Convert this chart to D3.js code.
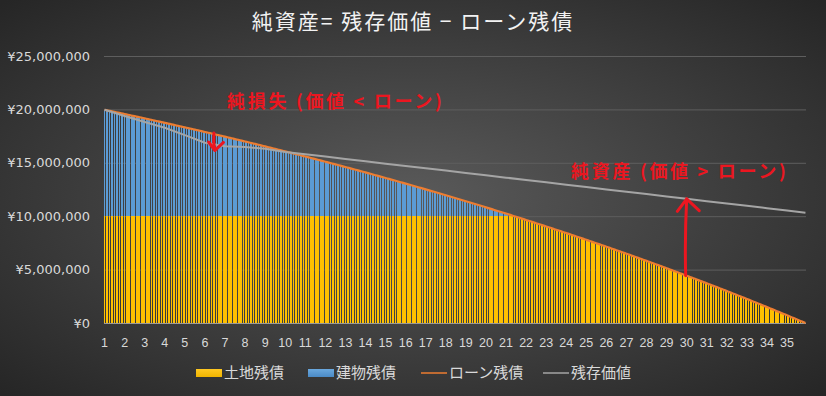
<!DOCTYPE html>
<html><head><meta charset="utf-8">
<script src="https://cdn.jsdelivr.net/npm/d3@7/dist/d3.min.js"></script>
<style>html,body{margin:0;padding:0;background:#333;}svg{display:block;}</style>
</head><body>
<svg id="chart" width="826" height="396"></svg>
<script>
// values in thousands of yen (千円), one entry per month (35 years x 12)
const unit = 1000;
const yearLabels = ["1","2","3","4","5","6","7","8","9","10","11","12","13","14","15","16","17","18","19","20","21","22","23","24","25","26","27","28","29","30","31","32","33","34","35"];
const monthsPerYear = 12;
const yTicks = [0, 5000, 10000, 15000, 20000, 25000];

const loanBalance = [
19967,19934,19900,19867,19834,19801,19767,19734,19701,19668,19634,19601,
19567,19533,19500,19466,19432,19398,19364,19330,19297,19263,19229,19195,
19160,19126,19091,19057,19022,18988,18953,18918,18884,18849,18815,18780,
18745,18709,18674,18639,18603,18568,18533,18497,18462,18427,18391,18356,
18320,18284,18248,18212,18176,18141,18105,18069,18033,17997,17961,17925,
17888,17852,17815,17778,17741,17705,17668,17631,17594,17558,17521,17484,
17447,17409,17372,17334,17297,17259,17222,17184,17147,17109,17072,17034,
16996,16958,16920,16881,16843,16805,16767,16729,16691,16652,16614,16576,
16537,16498,16459,16420,16381,16342,16303,16264,16225,16186,16147,16108,
16068,16029,15989,15949,15909,15870,15830,15790,15750,15711,15671,15631,
15590,15550,15509,15469,15428,15388,15347,15306,15266,15225,15185,15144,
15103,15061,15020,14978,14937,14896,14854,14813,14771,14730,14688,14647,
14605,14563,14521,14478,14436,14394,14352,14310,14268,14225,14183,14141,
14098,14055,14012,13969,13926,13883,13839,13796,13753,13710,13667,13624,
13580,13536,13492,13448,13404,13360,13316,13272,13228,13184,13140,13096,
13051,13006,12962,12917,12872,12827,12782,12737,12693,12648,12603,12558,
12512,12467,12421,12375,12329,12284,12238,12192,12146,12101,12055,12009,
11962,11916,11869,11822,11776,11729,11682,11636,11589,11542,11496,11449,
11401,11354,11306,11259,11211,11164,11116,11068,11021,10973,10926,10878,
10829,10781,10732,10684,10635,10587,10538,10489,10441,10392,10344,10295,
10246,10196,10147,10097,10048,9998,9949,9899,9850,9800,9751,9701,
9650,9600,9549,9499,9448,9398,9347,9296,9246,9195,9145,9094,
9043,8991,8940,8888,8837,8785,8734,8682,8631,8579,8528,8476,
8423,8371,8318,8265,8213,8160,8107,8055,8002,7949,7897,7844,
7790,7737,7683,7629,7576,7522,7468,7415,7361,7307,7254,7200,
7145,7091,7036,6981,6926,6872,6817,6762,6707,6653,6598,6543,
6487,6431,6376,6320,6264,6208,6152,6096,6041,5985,5929,5873,
5816,5759,5702,5645,5588,5531,5474,5417,5360,5303,5246,5189,
5131,5073,5015,4956,4898,4840,4782,4724,4666,4607,4549,4491,
4432,4373,4313,4254,4195,4136,4076,4017,3958,3899,3839,3780,
3720,3659,3599,3538,3478,3417,3357,3296,3236,3175,3115,3054,
2992,2931,2869,2807,2745,2684,2622,2560,2498,2437,2375,2313,
2250,2187,2124,2061,1998,1935,1872,1809,1746,1683,1620,1557,
1493,1429,1364,1300,1236,1172,1107,1043,979,915,850,786,
721,655,590,524,459,393,328,262,197,131,66,0];

const landDebt = [
10000,10000,10000,10000,10000,10000,10000,10000,10000,10000,10000,10000,
10000,10000,10000,10000,10000,10000,10000,10000,10000,10000,10000,10000,
10000,10000,10000,10000,10000,10000,10000,10000,10000,10000,10000,10000,
10000,10000,10000,10000,10000,10000,10000,10000,10000,10000,10000,10000,
10000,10000,10000,10000,10000,10000,10000,10000,10000,10000,10000,10000,
10000,10000,10000,10000,10000,10000,10000,10000,10000,10000,10000,10000,
10000,10000,10000,10000,10000,10000,10000,10000,10000,10000,10000,10000,
10000,10000,10000,10000,10000,10000,10000,10000,10000,10000,10000,10000,
10000,10000,10000,10000,10000,10000,10000,10000,10000,10000,10000,10000,
10000,10000,10000,10000,10000,10000,10000,10000,10000,10000,10000,10000,
10000,10000,10000,10000,10000,10000,10000,10000,10000,10000,10000,10000,
10000,10000,10000,10000,10000,10000,10000,10000,10000,10000,10000,10000,
10000,10000,10000,10000,10000,10000,10000,10000,10000,10000,10000,10000,
10000,10000,10000,10000,10000,10000,10000,10000,10000,10000,10000,10000,
10000,10000,10000,10000,10000,10000,10000,10000,10000,10000,10000,10000,
10000,10000,10000,10000,10000,10000,10000,10000,10000,10000,10000,10000,
10000,10000,10000,10000,10000,10000,10000,10000,10000,10000,10000,10000,
10000,10000,10000,10000,10000,10000,10000,10000,10000,10000,10000,10000,
10000,10000,10000,10000,10000,10000,10000,10000,10000,10000,10000,10000,
10000,10000,10000,10000,10000,10000,10000,10000,10000,10000,10000,10000,
10000,10000,10000,10000,10000,9998,9949,9899,9850,9800,9751,9701,
9650,9600,9549,9499,9448,9398,9347,9296,9246,9195,9145,9094,
9043,8991,8940,8888,8837,8785,8734,8682,8631,8579,8528,8476,
8423,8371,8318,8265,8213,8160,8107,8055,8002,7949,7897,7844,
7790,7737,7683,7629,7576,7522,7468,7415,7361,7307,7254,7200,
7145,7091,7036,6981,6926,6872,6817,6762,6707,6653,6598,6543,
6487,6431,6376,6320,6264,6208,6152,6096,6041,5985,5929,5873,
5816,5759,5702,5645,5588,5531,5474,5417,5360,5303,5246,5189,
5131,5073,5015,4956,4898,4840,4782,4724,4666,4607,4549,4491,
4432,4373,4313,4254,4195,4136,4076,4017,3958,3899,3839,3780,
3720,3659,3599,3538,3478,3417,3357,3296,3236,3175,3115,3054,
2992,2931,2869,2807,2745,2684,2622,2560,2498,2437,2375,2313,
2250,2187,2124,2061,1998,1935,1872,1809,1746,1683,1620,1557,
1493,1429,1364,1300,1236,1172,1107,1043,979,915,850,786,
721,655,590,524,459,393,328,262,197,131,66,0];

const buildingDebt = [
9967,9934,9900,9867,9834,9801,9767,9734,9701,9668,9634,9601,
9567,9533,9500,9466,9432,9398,9364,9330,9297,9263,9229,9195,
9160,9126,9091,9057,9022,8988,8953,8918,8884,8849,8815,8780,
8745,8709,8674,8639,8603,8568,8533,8497,8462,8427,8391,8356,
8320,8284,8248,8212,8176,8141,8105,8069,8033,7997,7961,7925,
7888,7852,7815,7778,7741,7705,7668,7631,7594,7558,7521,7484,
7447,7409,7372,7334,7297,7259,7222,7184,7147,7109,7072,7034,
6996,6958,6920,6881,6843,6805,6767,6729,6691,6652,6614,6576,
6537,6498,6459,6420,6381,6342,6303,6264,6225,6186,6147,6108,
6068,6029,5989,5949,5909,5870,5830,5790,5750,5711,5671,5631,
5590,5550,5509,5469,5428,5388,5347,5306,5266,5225,5185,5144,
5103,5061,5020,4978,4937,4896,4854,4813,4771,4730,4688,4647,
4605,4563,4521,4478,4436,4394,4352,4310,4268,4225,4183,4141,
4098,4055,4012,3969,3926,3883,3839,3796,3753,3710,3667,3624,
3580,3536,3492,3448,3404,3360,3316,3272,3228,3184,3140,3096,
3051,3006,2962,2917,2872,2827,2782,2737,2693,2648,2603,2558,
2512,2467,2421,2375,2329,2284,2238,2192,2146,2101,2055,2009,
1962,1916,1869,1822,1776,1729,1682,1636,1589,1542,1496,1449,
1401,1354,1306,1259,1211,1164,1116,1068,1021,973,926,878,
829,781,732,684,635,587,538,489,441,392,344,295,
246,196,147,97,48,0,0,0,0,0,0,0,
0,0,0,0,0,0,0,0,0,0,0,0,
0,0,0,0,0,0,0,0,0,0,0,0,
0,0,0,0,0,0,0,0,0,0,0,0,
0,0,0,0,0,0,0,0,0,0,0,0,
0,0,0,0,0,0,0,0,0,0,0,0,
0,0,0,0,0,0,0,0,0,0,0,0,
0,0,0,0,0,0,0,0,0,0,0,0,
0,0,0,0,0,0,0,0,0,0,0,0,
0,0,0,0,0,0,0,0,0,0,0,0,
0,0,0,0,0,0,0,0,0,0,0,0,
0,0,0,0,0,0,0,0,0,0,0,0,
0,0,0,0,0,0,0,0,0,0,0,0,
0,0,0,0,0,0,0,0,0,0,0,0,
0,0,0,0,0,0,0,0,0,0,0,0];

// residual value (残存価値) read at the start of each year, plus the final month
const valueMonths = [0,12,24,36,48,60,72,84,96,108,120,132,144,156,168,180,192,204,216,228,240,252,264,276,288,300,312,324,336,348,360,372,384,396,408,419];
const residualValue = [19960,19380,18820,18280,17590,16880,16550,16480,16320,16020,15800,15580,15360,15140,14920,14700,14480,14270,14050,13830,13610,13390,13170,12950,12730,12510,12290,12070,11850,11630,11410,11190,10970,10750,10530,10330];

const seriesNames = ["土地残債","建物残債","ローン残債","残存価値"];
const colors = {land:"#FFC000", building:"#5B9BD5", loan:"#ED7D31", value:"#A5A5A5"};

const W = 826, H = 396;
const svg = d3.select("#chart");
const defs = svg.append("defs");
const rg = defs.append("radialGradient").attr("id","bg").attr("cx","50%").attr("cy","50%").attr("r","70%");
rg.append("stop").attr("offset","0%").attr("stop-color","#5a5a5a");
rg.append("stop").attr("offset","100%").attr("stop-color","#262626");
const gy = defs.append("linearGradient").attr("id","gy").attr("x1",0).attr("y1",0).attr("x2",0).attr("y2",1);
gy.append("stop").attr("offset","0%").attr("stop-color","#ffc822");
gy.append("stop").attr("offset","100%").attr("stop-color","#f0b400");
const gb = defs.append("linearGradient").attr("id","gb").attr("x1",0).attr("y1",0).attr("x2",0).attr("y2",1);
gb.append("stop").attr("offset","0%").attr("stop-color","#6aa8de");
gb.append("stop").attr("offset","100%").attr("stop-color","#4a8ac6");

svg.append("rect").attr("width",W).attr("height",H).attr("fill","url(#bg)");

const months = d3.range(loanBalance.length);
const x = d3.scaleBand().domain(months).range([104, 806]).paddingInner(0.35).paddingOuter(0);
const y = d3.scaleLinear().domain([0, 25000]).range([323, 56]);
const bw = x.bandwidth();
const cx = i => x(i) + bw / 2;

// gridlines
svg.append("g").selectAll("line").data(yTicks.slice(1)).join("line")
  .attr("x1",104).attr("x2",806).attr("y1",d=>y(d)+0.5).attr("y2",d=>y(d)+0.5)
  .attr("stroke","#5e5e5e").attr("stroke-width",1);

// stacked bars
const table = months.map(i => ({month:i, land:landDebt[i], building:buildingDebt[i]}));
const stacked = d3.stack().keys(["land","building"])(table);
const fills = {land:"#FFC000", building:"#5B9BD5"};
svg.append("g").attr("shape-rendering","crispEdges").selectAll("g").data(stacked).join("g")
  .attr("fill", s => fills[s.key])
  .selectAll("rect").data(s => s).join("rect")
  .attr("x", d => x(d.data.month)).attr("width", bw)
  .attr("y", d => y(d[1])).attr("height", d => Math.max(0, y(d[0]) - y(d[1])));

// x axis line
svg.append("line").attr("x1",104).attr("x2",806).attr("y1",323.5).attr("y2",323.5)
  .attr("stroke","#9a9a9a").attr("stroke-width",1);

// lines
const loanLine = d3.line().x((d,i)=>cx(i)).y(d=>y(d));
svg.append("path").datum(loanBalance).attr("d",loanLine)
  .attr("fill","none").attr("stroke",colors.loan).attr("stroke-width",2.2).attr("stroke-linejoin","round");
const valLine = d3.line().x((d,i)=>cx(valueMonths[i])).y(d=>y(d));
svg.append("path").datum(residualValue).attr("d",valLine)
  .attr("fill","none").attr("stroke",colors.value).attr("stroke-width",2).attr("stroke-linejoin","round");

// y axis labels
const yfmt = v => "¥" + d3.format(",")(v * unit);
svg.append("g").selectAll("text").data(yTicks).join("text")
  .attr("x",90).attr("y",d=>y(d)).attr("dy","0.35em").attr("text-anchor","end")
  .attr("font-family","DejaVu Sans, sans-serif").attr("font-size",13).attr("fill","#d9d9d9")
  .text(yfmt);

// x axis labels
svg.append("g").selectAll("text").data(yearLabels).join("text")
  .attr("x",(d,i)=>cx(i*monthsPerYear)).attr("y",343).attr("dy","0.35em").attr("text-anchor","middle")
  .attr("font-family","Liberation Sans, Arial, sans-serif").attr("font-size",12.5).attr("fill","#d9d9d9")
  .text(d=>d);

// title
svg.append("text").attr("x",413).attr("y",22).attr("dy","0.35em").attr("text-anchor","middle")
  .attr("font-family","Noto Sans CJK JP, sans-serif").attr("font-size",21).attr("letter-spacing",2).attr("fill","#f2f2f2")
  .style("white-space","pre")
  .text("純資産= 残存価値 − ローン残債");

// annotations
const red = "#ec1620";
svg.append("text").attr("x",227).attr("y",102).attr("dy","0.35em")
  .attr("font-family","Noto Sans CJK JP, sans-serif").attr("font-weight","bold").attr("font-size",18).attr("letter-spacing",2.7).attr("fill",red)
  .style("white-space","pre")
  .text("純損失 (価値 < ローン)");
svg.append("text").attr("x",571).attr("y",172).attr("dy","0.35em")
  .attr("font-family","Noto Sans CJK JP, sans-serif").attr("font-weight","bold").attr("font-size",18).attr("letter-spacing",2.7).attr("fill",red)
  .style("white-space","pre")
  .text("純資産 (価値 > ローン)");

function arrow(xm, yFrom, yTo, arm) {
  const ax = cx(xm), y0 = y(yFrom), y1 = y(yTo);
  const dir = y1 < y0 ? 1 : -1;
  const p = d3.path();
  p.moveTo(ax - 1, y0); p.quadraticCurveTo(ax - 2, (y0 + y1) / 2, ax, y1);
  p.moveTo(ax - arm * 0.75, y1 + dir * arm); p.lineTo(ax, y1);
  p.lineTo(ax + arm, y1 + dir * arm * 0.95);
  svg.append("path").attr("d", p.toString()).attr("fill","none").attr("stroke",red)
    .attr("stroke-width",3).attr("stroke-linecap","round").attr("stroke-linejoin","round");
}
arrow(66, 17800, 16150, 8.5);
arrow(348, loanBalance[348], 11630, 12.5);

// legend
const legendItems = [
  {name:seriesNames[0], type:"rect", fill:"url(#gy)", x:196},
  {name:seriesNames[1], type:"rect", fill:"url(#gb)", x:308},
  {name:seriesNames[2], type:"line", fill:colors.loan, x:421},
  {name:seriesNames[3], type:"line", fill:colors.value, x:543}
];
const lg = svg.append("g").selectAll("g").data(legendItems).join("g")
  .attr("transform", d => `translate(${d.x},373)`);
lg.filter(d=>d.type==="rect").append("rect").attr("x",0).attr("y",-4).attr("width",26).attr("height",8).attr("fill",d=>d.fill);
lg.filter(d=>d.type==="line").append("line").attr("x1",0).attr("x2",26).attr("y1",0).attr("y2",0).attr("stroke",d=>d.fill).attr("stroke-width",1.5);
lg.append("text").attr("x",28).attr("y",0).attr("dy","0.35em")
  .attr("font-family","Noto Sans CJK JP, sans-serif").attr("font-size",15).attr("fill","#d9d9d9")
  .text(d=>d.name);
</script>
</body></html>
